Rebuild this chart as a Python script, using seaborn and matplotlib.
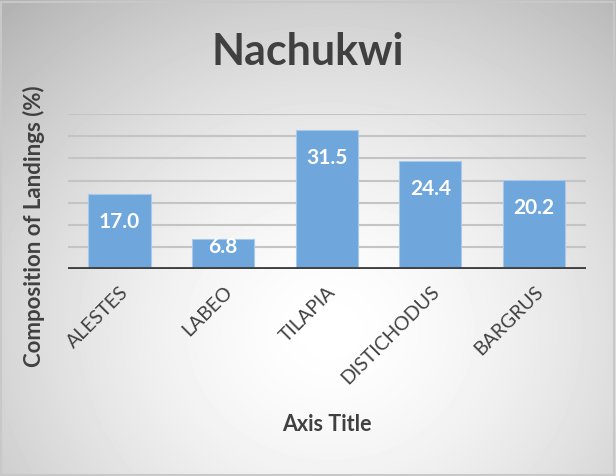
import numpy as np
import pandas as pd
import matplotlib.pyplot as plt
import seaborn as sns

# data
species = ['ALESTES', 'LABEO', 'TILAPIA', 'DISTICHODUS', 'BARGRUS']
share = [17.0, 6.8, 31.5, 24.4, 20.2]
yticks = [0, 5, 10, 15, 20, 25, 30, 35]

df = pd.DataFrame({'species': species, 'share': share})

sns.set_style('white')
plt.rcParams['font.family'] = ['Lato', 'DejaVu Sans']

fig = plt.figure(figsize=(6.16, 4.76), dpi=100)

# radial grey gradient behind everything
bg = fig.add_axes([0, 0, 1, 1], zorder=-10)
yy, xx = np.mgrid[0:476, 0:616]
r = np.sqrt(((xx - 330) / 420.0) ** 2 + ((yy - 330) / 380.0) ** 2)
shade = 1.0 - 0.24 * np.clip(r, 0, 1.15) ** 1.6
bg.imshow(shade, cmap='gray', vmin=0, vmax=1, aspect='auto', extent=[0, 1, 0, 1])
bg.set_axis_off()
fig.patches.append(plt.Rectangle((0.002, 0.003), 0.995, 0.993, transform=fig.transFigure,
                                 fill=False, edgecolor='#c8c8c8', lw=1.5))

ax = fig.add_axes([0.110, 0.434, 0.841, 0.3265])
ax.set_facecolor('none')
sns.barplot(data=df, x='species', y='share', color='#6fa6dc', width=0.6,
            edgecolor='#a9c9ea', linewidth=0.8, saturation=1, ax=ax, zorder=3)

ax.set_ylim(0, 35)
ax.set_yticks(yticks)
ax.set_yticklabels([])
for t in yticks[1:]:
    ax.axhline(t, color='#c4c4c4', lw=1.5, zorder=1)
ax.axhline(0, color='#404040', lw=3.5, zorder=4)
ax.tick_params(axis='both', length=0)
sns.despine(ax=ax, left=True, bottom=True, top=True, right=True)

# value labels near the top inside each bar
for i, v in enumerate(share):
    ax.text(i, max(v - 6.3, 5.0), f'{v:.1f}', ha='center', va='center',
            color='white', fontsize=15, fontweight='bold', zorder=5)

ax.set_xticks(range(len(species)))
ax.set_xticklabels(species, rotation=45, ha='right', rotation_mode='anchor',
                   fontsize=14, color='#404040')
ax.tick_params(axis='x', pad=10)

ax.set_xlabel('Axis Title', fontsize=15.5, fontweight='bold', color='#404040')
ax.xaxis.set_label_coords(0.5, -0.93)
ax.set_ylabel('Composition of Landings (%)', fontsize=16, fontweight='bold', color='#404040')
ax.yaxis.set_label_coords(-0.043, 0.28)

fig.text(0.5, 0.89, 'Nachukwi', ha='center', va='center', fontsize=31,
         fontweight='bold', color='#404040')

fig.savefig('out.png', dpi=100)
